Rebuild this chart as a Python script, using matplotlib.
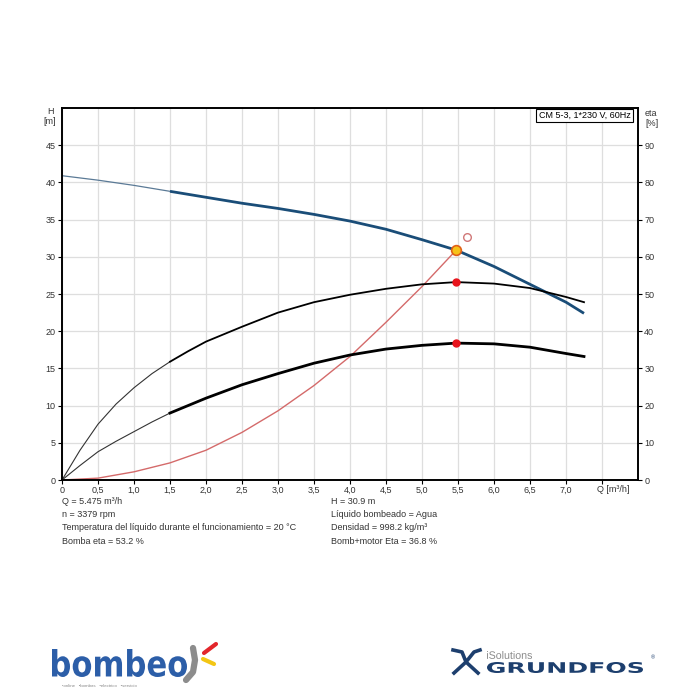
import matplotlib
matplotlib.use('Agg')
import matplotlib.pyplot as plt
import numpy as np
from matplotlib.textpath import TextPath
from matplotlib.patches import PathPatch
from matplotlib.font_manager import FontProperties
from matplotlib.transforms import Affine2D, blended_transform_factory

plt.rcParams['font.family'] = ['Liberation Sans', 'DejaVu Sans']

# Pump head curve H(Q)
q_head = [0, 0.5, 1.0, 1.5, 2.0, 2.5, 3.0, 3.5, 4.0, 4.5, 5.0, 5.475, 6.0, 6.5, 7.0, 7.25]
head = [40.9, 40.3, 39.6, 38.8, 38.0, 37.2, 36.5, 35.7, 34.8, 33.7, 32.3, 30.9, 28.7, 26.3, 23.9, 22.4]

# Efficiency curves (%)
q_eta = [0, 0.25, 0.5, 0.75, 1.0, 1.25, 1.5, 1.75, 2.0, 2.5, 3.0, 3.5, 4.0, 4.5, 5.0,
         5.475, 6.0, 6.5, 7.0, 7.25]
eta_pump = [0, 8.0, 15.0, 20.4, 24.8, 28.6, 31.8, 34.6, 37.2, 41.2, 45.0, 47.8, 49.8, 51.4,
            52.6, 53.2, 52.8, 51.6, 49.2, 47.8]
eta_total = [0, 3.9, 7.6, 10.4, 13.0, 15.6, 18.0, 20.0, 22.0, 25.6, 28.6, 31.4, 33.6, 35.2,
             36.2, 36.8, 36.6, 35.7, 34.0, 33.2]

# System curve
q_sys = [0, 0.5, 1.0, 1.5, 2.0, 2.5, 3.0, 3.5, 4.0, 4.5, 5.0, 5.475]
h_sys = [0, 0.25, 1.1, 2.3, 4.0, 6.4, 9.3, 12.7, 16.6, 21.2, 26.0, 30.9]

# Duty point values
q_op, h_op = 5.475, 30.9
eta_pump_op, eta_total_op = 53.2, 36.8
q_req, h_req = 5.62, 32.7

x_ticks = [0, 0.5, 1.0, 1.5, 2.0, 2.5, 3.0, 3.5, 4.0, 4.5, 5.0, 5.5, 6.0, 6.5, 7.0, 7.5]
x_labels = ['0', '0,5', '1,0', '1,5', '2,0', '2,5', '3,0', '3,5', '4,0', '4,5',
            '5,0', '5,5', '6,0', '6,5', '7,0', '']

info_left = ['Q = 5.475 m³/h', 'n = 3379 rpm',
             'Temperatura del líquido durante el funcionamiento = 20 °C',
             'Bomba eta = 53.2 %']
info_right = ['H = 30.9 m', 'Líquido bombeado = Agua',
              'Densidad = 998.2 kg/m³', 'Bomb+motor Eta = 36.8 %']

fs = 6.5
txt_col = '#333333'
W = 700.0
thick_from_head = 3   # index of Q = 1.5
thick_from_eta = 6

fig = plt.figure(figsize=(7, 7), dpi=100)
ax = fig.add_axes([62 / W, 1 - 480 / W, 576 / W, 372 / W])
ax2 = ax.twinx()

ax.set_xlim(0, 8)
ax.set_ylim(0, 50)
ax2.set_ylim(0, 100)

ax.set_xticks(x_ticks)
ax.set_xticklabels(x_labels)
ax.set_yticks(range(0, 46, 5))
ax2.set_yticks(range(0, 91, 10))
ax.grid(True, color='#dedede', lw=0.9)
ax.set_axisbelow(True)

for a in (ax, ax2):
    a.tick_params(direction='out', length=3, width=0.8, labelsize=fs,
                  labelcolor=txt_col, pad=1.5)
    for s in a.spines.values():
        s.set_linewidth(1.2)
        s.set_color('black')

# head curve: thin outside operating range, thick inside
n = thick_from_head
ax.plot(q_head[:n + 1], head[:n + 1], color='#5b7a96', lw=0.9)
ax.plot(q_head[n:], head[n:], color='#1a4d78', lw=2.0, solid_capstyle='butt')

# system curve
ax.plot(q_sys, h_sys, color='#d46a6a', lw=1.0)

# efficiency curves
m = thick_from_eta
ax2.plot(q_eta[:m + 1], eta_pump[:m + 1], color='#333333', lw=0.8)
ax2.plot(q_eta[m:], eta_pump[m:], color='black', lw=1.3)
ax2.plot(q_eta[:m + 1], eta_total[:m + 1], color='#333333', lw=0.8)
ax2.plot(q_eta[m:], eta_total[m:], color='black', lw=2.0)

ax2.plot([q_op, q_op], [eta_pump_op, eta_total_op], 'o', color='#e8141c', ms=5, zorder=5)
ax.plot(q_req, h_req, 'o', mfc='white', mec='#d07878', mew=1.0, ms=5.5, zorder=5)
ax.plot(q_op, h_op, 'o', mfc='#f6c21a', mec='#e06018', mew=1.2, ms=7, zorder=6)

ax.text(0.907, 0.980, 'CM 5-3, 1*230 V, 60Hz', transform=ax.transAxes,
        ha='center', va='center', fontsize=fs, color='black',
        bbox=dict(boxstyle='square,pad=0.25', fc='white', ec='black', lw=0.8))

tr = blended_transform_factory(ax.transData, ax.transAxes)
ax.text(7.43, -0.013, 'Q [m³/h]', transform=tr, ha='left', va='top',
        fontsize=fs, color=txt_col)

fig.text(50 / W, 1 - 112 / W, 'H', ha='center', va='center', fontsize=fs, color=txt_col)
fig.text(50 / W, 1 - 122 / W, '[m]', ha='center', va='center', fontsize=fs, color=txt_col)
fig.text(645 / W, 1 - 113 / W, 'eta', ha='left', va='center', fontsize=fs, color=txt_col)
fig.text(645 / W, 1 - 123 / W, '[%]', ha='left', va='center', fontsize=fs, color=txt_col)

for i, (l, r) in enumerate(zip(info_left, info_right)):
    y = 1 - (501 + 13.5 * i) / W
    fig.text(62 / W, y, l, ha='left', va='center', fontsize=fs, color=txt_col)
    fig.text(331 / W, y, r, ha='left', va='center', fontsize=fs, color=txt_col)

# logos drawn in a pixel-coordinate overlay
lg = fig.add_axes([0, 0, 1, 1], zorder=-1)
lg.set_xlim(0, W)
lg.set_ylim(W, 0)
lg.axis('off')


def path_text(s, x0, y0, x1, y1, color, weight='bold', family='DejaVu Sans'):
    tp = TextPath((0, 0), s, size=10, prop=FontProperties(family=family, weight=weight))
    ext = tp.get_extents()
    t = Affine2D().translate(-ext.x0, -ext.y1).scale((x1 - x0) / ext.width,
                                                     -(y1 - y0) / ext.height).translate(x0, y0)
    lg.add_patch(PathPatch(t.transform_path(tp), fc=color, lw=0))


path_text('bombeo', 52, 649, 187, 677, '#2c5ea8')
lg.plot([193, 195, 193, 186], [648, 660, 672, 680], color='#8c8c8c', lw=4.5,
        solid_capstyle='round')
lg.plot([204, 216], [653, 644], color='#e3262b', lw=3, solid_capstyle='round')
lg.plot([203, 214], [659, 664], color='#f3c614', lw=3, solid_capstyle='round')
fig.text(62 / W, 1 - 686 / W, '•online   •bombas   •electrico   •servicio',
         fontsize=3.2, color='#8a8a8a', va='center')

path_text('iSolutions', 487, 651, 532, 659, '#8a8a8a', weight='normal',
          family='Liberation Sans')
path_text('GRUNDFOS', 487, 662, 643, 673, '#1d3f6e', weight='heavy')
fig.text(651 / W, 1 - 658 / W, '®', fontsize=4, color='#1d3f6e', va='center')
lg.plot([453, 462, 466, 474, 480], [650, 652, 662, 652, 650], color='#1d3f6e', lw=2.6)
lg.plot([454, 466, 478], [673, 662, 673], color='#1d3f6e', lw=2.6)

fig.savefig('out.png', dpi=100, facecolor='white')
